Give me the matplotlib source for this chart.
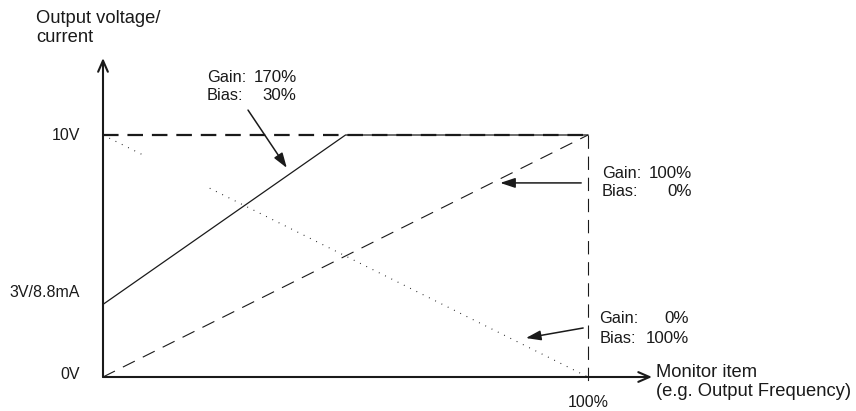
import matplotlib
matplotlib.use("Agg")
import matplotlib.pyplot as plt
import numpy as np

plt.rcParams['font.family'] = ['Liberation Sans', 'DejaVu Sans']

# ---- data (fractions of 100% monitor item / fractions of 10V) ----
x_gain170 = [0.0, 0.5, 1.0]
y_gain170 = [0.3, 1.0, 1.0]
x_gain100 = [0.0, 1.0]
y_gain100 = [0.0, 1.0]
x_gain0 = [0.0, 0.08, np.nan, 0.22, 1.0]
y_gain0 = [1.0, 0.92, np.nan, 0.78, 0.0]
y_ticks = [0.0, 0.3, 1.0]
y_tick_labels = ["0V", "3V/8.8mA", "10V"]
x_tick_label = "100%"

W, H = 856, 411
fig = plt.figure(figsize=(W / 100, H / 100), dpi=100)
x0, y0, x1, y1 = 103, 377, 588, 135
ax = fig.add_axes([x0 / W, (H - y0) / H, (x1 - x0) / W, (y0 - y1) / H])
ax.set_xlim(0, 1)
ax.set_ylim(0, 1)
ax.axis('off')

col = '#1a1a1a'
FS = 11.5
FL = 11.8
FV = 12.2
FT = 13.2

# reference lines: 10V level and 100% vertical
ax.plot([0, 1], [1, 1], color=col, lw=1.6, dashes=(7, 4), clip_on=False)
ax.plot([1, 1], [1, -0.043], color=col, lw=0.8, dashes=(12, 7), clip_on=False)

# series
ax.plot(x_gain170, y_gain170, color=col, lw=0.9, clip_on=False)
ax.plot(x_gain100, y_gain100, color=col, lw=0.8, dashes=(12, 8), clip_on=False)
ax.plot(x_gain0, y_gain0, color=col, lw=0.8, dashes=(0.8, 5.5), clip_on=False)

# axes with open arrowheads
ax.annotate('', xy=(0, 1.318), xytext=(0, 0), annotation_clip=False,
            arrowprops=dict(arrowstyle='->,head_length=0.8,head_width=0.35',
                            color=col, lw=1.5, shrinkA=0, shrinkB=0))
ax.annotate('', xy=(1.132, 0), xytext=(0, 0), annotation_clip=False,
            arrowprops=dict(arrowstyle='->,head_length=0.8,head_width=0.35',
                            color=col, lw=1.5, shrinkA=0, shrinkB=0))

# tick labels
for yv, lab in zip(y_ticks, y_tick_labels):
    off = {0.0: 0.012, 0.3: 0.051, 1.0: 0.0}[yv]
    ax.text(-0.047, yv + off, lab, ha='right', va='center', fontsize=FS, color=col)
ax.text(1.0, -0.124, x_tick_label, ha='center', va='baseline', fontsize=FS, color=col)

# axis titles
ax.text(-0.138, 1.463, "Output voltage/", ha='left', va='baseline', fontsize=FT, color=col)
ax.text(-0.138, 1.384, "current", ha='left', va='baseline', fontsize=FT, color=col)
ax.text(1.140, 0.0, "Monitor item", ha='left', va='baseline', fontsize=FT, color=col)
ax.text(1.140, -0.0785, "(e.g. Output Frequency)", ha='left', va='baseline', fontsize=FT, color=col)

# annotations
def block(xl, xr, ya, yb, v1, v2):
    ax.text(xl, ya, "Gain:", ha='left', va='baseline', fontsize=FL, color=col)
    ax.text(xl, yb, "Bias:", ha='left', va='baseline', fontsize=FL, color=col)
    ax.text(xr, ya, v1, ha='right', va='baseline', fontsize=FV, color=col)
    ax.text(xr, yb, v2, ha='right', va='baseline', fontsize=FV, color=col)

block(0.214, 0.399, 1.219, 1.145, "170%", "30%")
block(1.029, 1.215, 0.822, 0.748, "100%", "0%")
block(1.023, 1.209, 0.223, 0.140, "0%", "100%")

aprops = dict(arrowstyle='-|>,head_length=0.9,head_width=0.3', color=col, lw=1.1,
              shrinkA=0, shrinkB=0)
ax.annotate('', xy=(0.379, 0.864), xytext=(0.299, 1.103), arrowprops=aprops, annotation_clip=False)
ax.annotate('', xy=(0.819, 0.802), xytext=(0.986, 0.802), arrowprops=aprops, annotation_clip=False)
ax.annotate('', xy=(0.872, 0.161), xytext=(0.990, 0.2025), arrowprops=aprops, annotation_clip=False)

fig.savefig('out.png', dpi=100)
